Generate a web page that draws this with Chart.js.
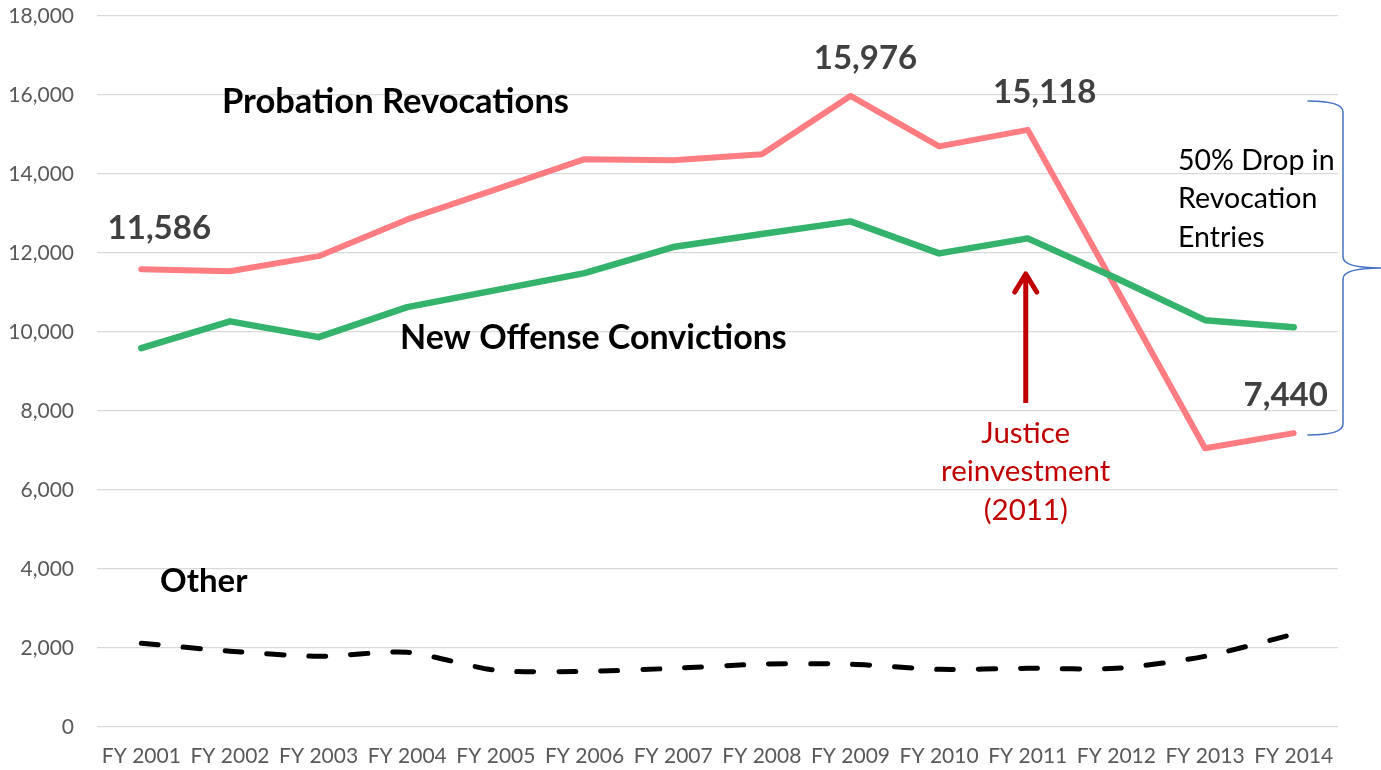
<!DOCTYPE html>
<html>
<head>
<meta charset="utf-8">
<script src="https://cdn.jsdelivr.net/npm/chart.js@4"></script>
<style>
html,body{margin:0;padding:0;background:#fff;}
#wrap{width:1381px;height:770px;position:relative;}
</style>
</head>
<body>
<div id="wrap"><canvas id="c" width="1381" height="770"></canvas></div>
<script>
const categories = ['FY 2001','FY 2002','FY 2003','FY 2004','FY 2005','FY 2006','FY 2007','FY 2008','FY 2009','FY 2010','FY 2011','FY 2012','FY 2013','FY 2014'];
const probationRevocations = [11586,11540,11920,12850,13610,14375,14350,14500,15976,14700,15118,11100,7055,7440];
const newOffenseConvictions = [9590,10270,9870,10630,11060,11490,12150,12480,12800,11990,12370,11360,10300,10120];
const otherEntries = [2120,1920,1790,1890,1435,1410,1485,1590,1590,1460,1485,1485,1790,2350];
const yTicks = [0,2000,4000,6000,8000,10000,12000,14000,16000,18000];
const labeledPoints = [
  {series:'pr', idx:0, text:'11,586', dx:18, dy:-41},
  {series:'pr', idx:8, text:'15,976', dx:15, dy:-38},
  {series:'pr', idx:10, text:'15,118', dx:17, dy:-37},
  {series:'pr', idx:13, text:'7,440', dx:-8, dy:-38}
];

const FONT = 'Lato, "Open Sans", sans-serif';

const annot = {
  id:'annot',
  afterDatasetsDraw(chart){
    const ctx = chart.ctx;
    const xs = chart.scales.x, ys = chart.scales.y;
    ctx.save();
    // data labels
    ctx.fillStyle = '#404040';
    ctx.font = 'bold 33px ' + FONT;
    ctx.textAlign = 'center';
    ctx.textBaseline = 'middle';
    labeledPoints.forEach(p=>{
      const x = xs.getPixelForValue(p.idx) + p.dx;
      const y = ys.getPixelForValue(probationRevocations[p.idx]) + p.dy;
      ctx.fillText(p.text, x, y);
    });
    // series names
    ctx.fillStyle = '#000';
    ctx.textAlign = 'left';
    ctx.font = 'bold 34.5px ' + FONT;
    ctx.fillText('Probation Revocations', 222, 102);
    ctx.font = 'bold 34px ' + FONT;
    ctx.fillText('New Offense Convictions', 400, 338);
    ctx.font = 'bold 33px ' + FONT;
    ctx.fillText('Other', 160, 581);
    // 50% drop text
    ctx.font = '28.5px ' + FONT;
    ctx.fillText('50% Drop in', 1178, 161);
    ctx.fillText('Revocation', 1178, 199);
    ctx.fillText('Entries', 1178, 238);
    // justice reinvestment
    ctx.fillStyle = '#c00000';
    ctx.textAlign = 'center';
    ctx.font = '29.5px ' + FONT;
    const jx = xs.getPixelForValue(10) - 2;
    ctx.fillText('Justice', jx, 433);
    ctx.fillText('reinvestment', jx, 471);
    ctx.fillText('(2011)', jx, 510);
    // arrow
    ctx.strokeStyle = '#c00000';
    ctx.lineWidth = 5;
    ctx.lineCap = 'butt';
    ctx.beginPath();
    ctx.moveTo(jx, 403);
    ctx.lineTo(jx, 276);
    ctx.stroke();
    ctx.lineCap = 'round';
    ctx.lineJoin = 'round';
    ctx.beginPath();
    ctx.moveTo(jx-11, 292);
    ctx.lineTo(jx, 274);
    ctx.lineTo(jx+11, 292);
    ctx.stroke();
    // brace
    ctx.strokeStyle = '#4472c4';
    ctx.lineWidth = 1.5;
    ctx.beginPath();
    ctx.moveTo(1308, 101);
    ctx.quadraticCurveTo(1343, 101, 1343, 112);
    ctx.lineTo(1343, 257);
    ctx.quadraticCurveTo(1343, 268, 1381, 268);
    ctx.quadraticCurveTo(1343, 268, 1343, 279);
    ctx.lineTo(1343, 424);
    ctx.quadraticCurveTo(1343, 435, 1308, 435);
    ctx.stroke();
    ctx.restore();
  }
};

new Chart(document.getElementById('c'), {
  type:'line',
  data:{
    labels: categories,
    datasets:[
      {label:'Other', data: otherEntries, borderColor:'#000', borderWidth:5, borderDash:[17,25], borderCapStyle:'round', pointRadius:0, tension:0.25, fill:false},
      {label:'New Offense Convictions', data: newOffenseConvictions, borderColor:'#33b36b', borderWidth:6.5, borderCapStyle:'round', borderJoinStyle:'round', pointRadius:0, tension:0, fill:false},
      {label:'Probation Revocations', data: probationRevocations, borderColor:'#ff7c80', borderWidth:6, borderCapStyle:'round', borderJoinStyle:'round', pointRadius:0, tension:0, fill:false}
    ]
  },
  options:{
    responsive:false,
    animation:false,
    layout:{padding:{left:0,right:43,top:16,bottom:0}},
    plugins:{legend:{display:false}, tooltip:{enabled:false}},
    scales:{
      x:{
        offset:true,
        grid:{display:false},
        border:{display:false},
        ticks:{color:'#595959', font:{family:FONT, size:21}, padding:9, maxRotation:0, autoSkip:false},
        afterFit(s){ s.height = 43; s.paddingLeft = 0; s.paddingRight = 0; }
      },
      y:{
        min:0, max:18000,
        afterBuildTicks(s){ s.ticks = yTicks.map(v=>({value:v})); },
        grid:{color:'#d9d9d9', lineWidth:1.3, drawTicks:false},
        border:{display:false},
        ticks:{color:'#595959', font:{family:FONT, size:21}, padding:23, callback:v=>v.toLocaleString('en-US')},
        afterFit(s){ s.width = 97; s.paddingTop = 0; s.paddingBottom = 0; }
      }
    }
  },
  plugins:[annot]
});
</script>
</body>
</html>
